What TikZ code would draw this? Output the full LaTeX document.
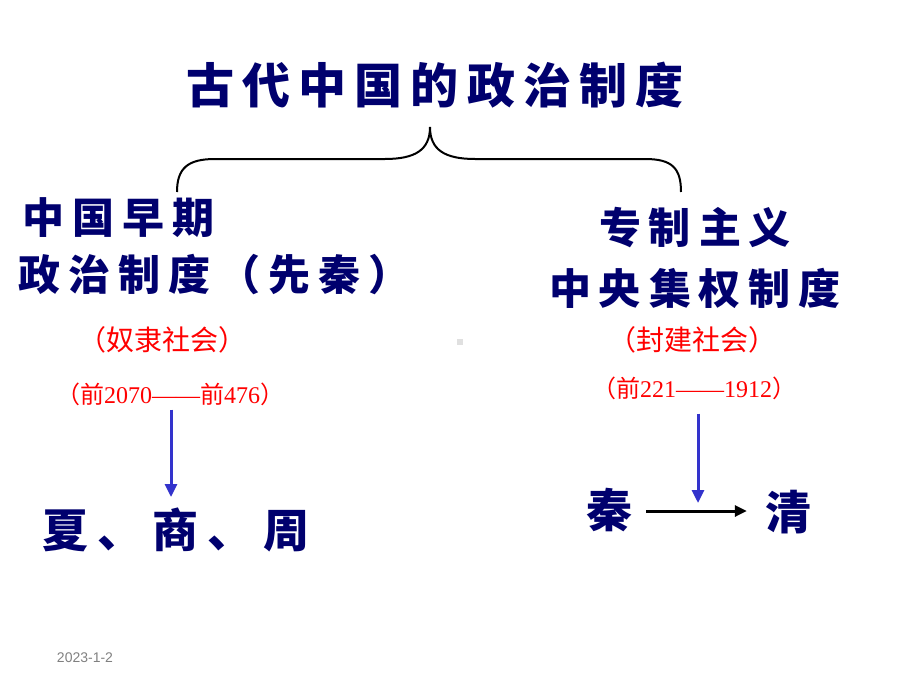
\documentclass[tikz,border=0pt]{standalone}
\usepackage{fontspec}
\setmainfont{Liberation Serif}
\setsansfont{Liberation Sans}
\newfontfamily\cjk{Noto Sans CJK SC}
\usetikzlibrary{arrows.meta}
\definecolor{navy}{RGB}{0,0,110}
\definecolor{arrowblue}{RGB}{51,51,204}
\tikzset{
  head/.style={font=\cjk\bfseries\fontsize{48}{50}\selectfont\addfontfeature{LetterSpace=17}, text=navy, inner sep=0pt},
  big/.style={font=\cjk\bfseries\fontsize{42}{44}\selectfont\addfontfeature{LetterSpace=19}, text=navy, inner sep=0pt},
  era/.style={font=\cjk\fontsize{28}{30}\selectfont, text=red, inner sep=0pt},
  yrs/.style={font=\fontsize{24}{26}\selectfont, text=red, inner sep=0pt},
  dyn/.style={font=\cjk\bfseries\fontsize{46}{48}\selectfont\addfontfeature{LetterSpace=20}, text=navy},
  down/.style={arrowblue, line width=3pt, -{Triangle[width=12pt,length=13pt]}}
}
\newcommand{\qian}{{\cjk 前}}
\begin{document}
\begin{tikzpicture}[x=1pt, y=-1pt]
\useasboundingbox (0,0) rectangle (920,690);

% title and brace
\node[head] (title) at (435,85) {古代中国的政治制度};
\draw[line width=2pt] (177,192) .. controls (177,168) and (188,159) .. (215,159) -- (385,159)
  .. controls (415,159) and (430,150) .. (430,127)
  .. controls (430,150) and (445,159) .. (475,159) -- (645,159)
  .. controls (672,159) and (681,168) .. (681,192);

% left branch
\node[big, anchor=west] (early1) at (22,218) {中国早期};
\node[big, anchor=west] (early2) at (18,275) {政治制度（先秦）};
\node[era] (slave) at (162,340) {（奴隶社会）};
\node[yrs] (ldate) at (170,394) {{\cjk （}\qian2070——\qian476{\cjk ）}};
\node[dyn, anchor=west, inner sep=0pt] (xsz) at (42,530) {夏、商、周};
\coordinate (lx) at (171,497);
\draw[down] (ldate.south -| lx) ++(0,4) -- (lx);

% right branch
\node[big] (auto1) at (695,228) {专制主义};
\node[big] (auto2) at (695,288) {中央集权制度};
\node[era] (feudal) at (692,340) {（封建社会）};
\node[yrs] (rdate) at (694,388) {{\cjk （}\qian221——1912{\cjk ）}};
\node[dyn, inner sep=14pt] (qin) at (609,510) {秦};
\node[dyn, inner sep=18pt] (qing) at (788,512) {清};
\draw[line width=3pt, -{Triangle[width=11pt,length=12pt]}] (qin.east |- 0,511) -- (qing.west |- 0,511);
\coordinate (rx) at (698,503);
\draw[down] (rdate.south -| rx) ++(0,14) -- (rx);

% stray mark and date
\fill[black!12] (457,339) rectangle (463,345);
\node[font=\sffamily\fontsize{14}{16}\selectfont, text=black!50] (stamp) at (85,658) {2023-1-2};
\end{tikzpicture}
\end{document}
